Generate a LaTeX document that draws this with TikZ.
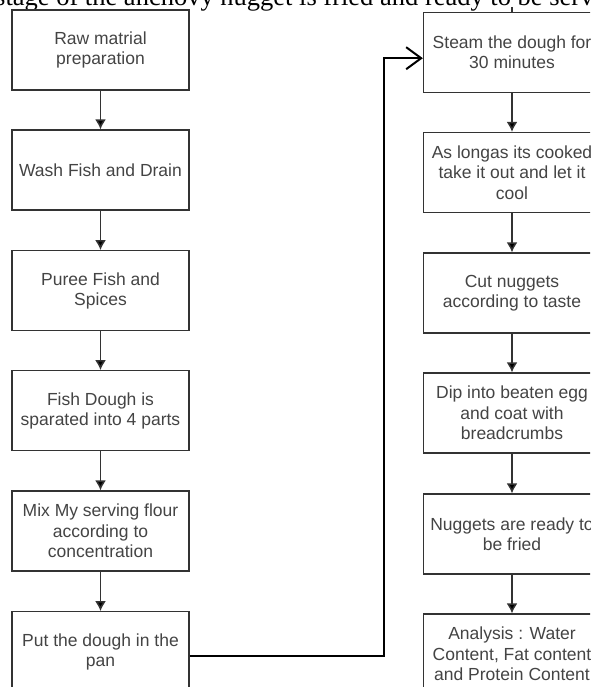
\documentclass[tikz,border=0pt]{standalone}
\usepackage{fontspec}
\setmainfont{Liberation Sans}
\newfontfamily\titlefont{Liberation Serif}
\usepackage{tikz}
\usetikzlibrary{arrows.meta}
\definecolor{boxgray}{HTML}{333333}
\definecolor{txtgray}{HTML}{444444}

\tikzset{
  stepbox/.style={draw=boxgray, line width=1.3pt, fill=white, align=center,
    minimum width=177pt, minimum height=80pt, inner sep=0pt,
    text=txtgray, font=\fontsize{17.5}{20.3}\selectfont},
  flow/.style={->, >={Latex[length=10pt,width=11pt]}, draw=boxgray, line width=1.5pt}
}

\begin{document}
\begin{tikzpicture}[x=1pt, y=-1pt]

    \useasboundingbox (0,0) rectangle (590,687);
    \clip (0,0) rectangle (590,687);

    \node[anchor=base west, inner sep=0pt] (caption) at (-5, 6)
    {\titlefont\fontsize{26.5}{30}\selectfont stage of the anchovy nugget is fried and ready to be served};

    % left column
    \node[stepbox] (rawPrep) at (100.5, 50) {Raw matrial\\preparation};
    \node[stepbox] (washFish) at (100.5, 170) {Wash Fish and Drain};
    \node[stepbox] (pureeFish) at (100.5, 290.7) {Puree Fish and\\Spices};
    \node[stepbox] (splitDough) at (100.5, 410.7) {Fish Dough is\\sparated into 4 parts};
    \node[stepbox] (mixFlour) at (100.5, 531) {Mix My serving flour\\according to\\concentration};
    \node[stepbox] (putPan) at (100.5, 651.7) {Put the dough in the\\pan};

    % right column
    \node[stepbox] (steamDough) at (512, 52.2) {Steam the dough for\\30 minutes};
    \node[stepbox] (coolDown) at (512, 172.5) {As longas its cooked\\take it out and let it\\cool};
    \node[stepbox] (cutNuggets) at (512, 293) {Cut nuggets\\according to taste};
    \node[stepbox] (dipEgg) at (512, 413) {Dip into beaten egg\\and coat with\\breadcrumbs};
    \node[stepbox] (readyFry) at (512, 534) {Nuggets are ready to\\be fried};
    \node[stepbox] (analysis) at (512, 654) {Analysis : Water\\Content, Fat content\\and Protein Content};

    \coordinate (topEdge) at (512, 7);
    \draw[draw=boxgray, line width=1.3pt] (topEdge) -- (steamDough.north);

    \draw[flow]
      (rawPrep) edge (washFish)
      (washFish) edge (pureeFish)
      (pureeFish) edge (splitDough)
      (splitDough) edge (mixFlour)
      (mixFlour) edge (putPan);

    \draw[flow]
      (steamDough) edge (coolDown)
      (coolDown) edge (cutNuggets)
      (cutNuggets) edge (dipEgg)
      (dipEgg) edge (readyFry)
      (readyFry) edge (analysis);

    \draw[-{Straight Barb[length=15pt,width=22pt]}, line width=2pt, line join=miter]
    ([yshift=-4pt]putPan.east) -- ++(194,0) |- ([yshift=-6pt]steamDough.west);
  \end{tikzpicture}
\end{document}
